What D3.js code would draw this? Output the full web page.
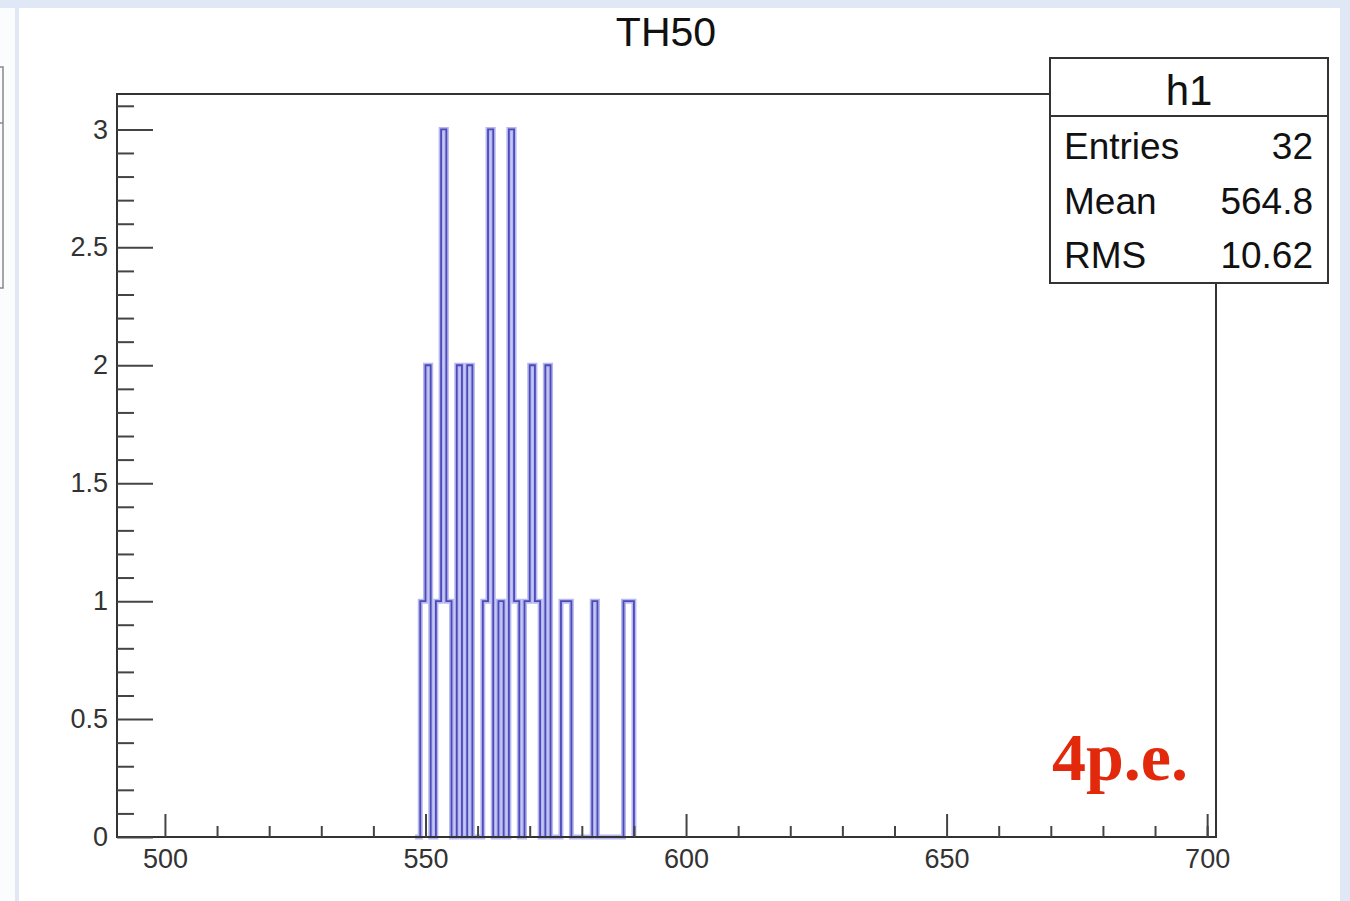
<!DOCTYPE html>
<html>
<head>
<meta charset="utf-8">
<script src="https://cdn.jsdelivr.net/npm/d3@7"></script>
<style>
  html, body { margin: 0; padding: 0; background: #dfe8f4; }
  svg { display: block; }
  text { font-family: "Liberation Sans", Arial, sans-serif; }
</style>
</head>
<body>
<div id="chart"></div>
<script>
// histogram bins: lower edge (width 1) and counts
const binLow = [549, 550, 551, 552, 553, 554, 555, 556, 557, 558, 559, 560, 561, 562, 563, 564, 565, 566, 567, 568, 569,
                570, 571, 572, 573, 574, 575, 576, 577, 578, 579, 580, 581, 582, 583, 584, 585, 586, 587, 588, 589];
const counts = [1, 2, 0, 1, 3, 1, 0, 2, 0, 2, 0, 0, 1, 3, 0, 1, 0, 3, 1, 0, 1,
                2, 1, 0, 2, 0, 0, 1, 1, 0, 0, 0, 0, 1, 0, 0, 0, 0, 0, 1, 1];

const xMajorTicks = [500, 550, 600, 650, 700];
const xMinorTicks = [510, 520, 530, 540, 560, 570, 580, 590, 610, 620, 630, 640, 660, 670, 680, 690, 700];
const yMajorTicks = [0, 0.5, 1, 1.5, 2, 2.5, 3];
const yMinorTicks = [0.1, 0.2, 0.3, 0.4, 0.6, 0.7, 0.8, 0.9, 1.1, 1.2, 1.3, 1.4, 1.6, 1.7, 1.8, 1.9,
                     2.1, 2.2, 2.3, 2.4, 2.6, 2.7, 2.8, 2.9, 3.1];

const statNames = ["Entries", "Mean", "RMS"];
const statValues = ["32", "564.8", "10.62"];
const histName = "h1";
const title = "TH50";
const note = "4p.e.";

const width = 1350;
const height = 901;

const svg = d3.select("#chart")
    .append("svg")
    .attr("width", width)
    .attr("height", height);

// slide background pieces
svg.append("rect").attr("x", 0).attr("y", 8).attr("width", 15).attr("height", height).attr("fill", "#fbfcfe");
svg.append("rect").attr("x", 19).attr("y", 8).attr("width", 1321).attr("height", height).attr("fill", "#ffffff");
svg.append("path")
    .attr("d", "M0,67 L3,67 L3,288 L0,288 M0,123 L3,123")
    .attr("fill", "none").attr("stroke", "#888").attr("stroke-width", 1.5);

const frame = { left: 117, right: 1216, top: 94, bottom: 837 };

const x = d3.scaleLinear().domain([490.8, 701.7]).range([frame.left, frame.right]);
const y = d3.scaleLinear().domain([0, 3.15]).range([frame.bottom, frame.top]);

// histogram outline
const pts = binLow.map((b, i) => [b, counts[i]]);
pts.unshift([binLow[0] - 1, 0]);
pts.push([binLow[binLow.length - 1] + 1, 0]);

const step = d3.line()
    .x(d => x(d[0]))
    .y(d => y(d[1]))
    .curve(d3.curveStepAfter);

svg.append("path")
    .attr("d", step(pts))
    .attr("fill", "none")
    .attr("stroke", "#b8b8f0")
    .attr("stroke-width", 5);

svg.append("path")
    .attr("d", step(pts))
    .attr("fill", "none")
    .attr("stroke", "#4a4ab8")
    .attr("stroke-width", 1.8);

// frame
svg.append("rect")
    .attr("x", frame.left).attr("y", frame.top)
    .attr("width", frame.right - frame.left).attr("height", frame.bottom - frame.top)
    .attr("fill", "none").attr("stroke", "#333").attr("stroke-width", 2);

// axes
const styleAxis = g => {
    g.select(".domain").remove();
    g.selectAll(".tick line").attr("stroke", "#444").attr("stroke-width", 2);
    g.selectAll("text").attr("fill", "#333").style("font-size", "27px")
        .style("font-family", "'Liberation Sans', Arial, sans-serif");
};

svg.append("g")
    .attr("transform", `translate(0,${frame.bottom})`)
    .call(d3.axisBottom(x).tickValues(xMajorTicks).tickSize(-23).tickPadding(12).tickFormat(d3.format("d")))
    .call(styleAxis);

svg.append("g")
    .attr("transform", `translate(0,${frame.bottom})`)
    .call(d3.axisBottom(x).tickValues(xMinorTicks).tickSize(-11).tickFormat(""))
    .call(styleAxis);

svg.append("g")
    .attr("transform", `translate(${frame.left},0)`)
    .call(d3.axisLeft(y).tickValues(yMajorTicks).tickSize(-36).tickPadding(9).tickFormat(d3.format("~g")))
    .call(styleAxis);

svg.append("g")
    .attr("transform", `translate(${frame.left},0)`)
    .call(d3.axisLeft(y).tickValues(yMinorTicks).tickSize(-17).tickFormat(""))
    .call(styleAxis);

// title
svg.append("text")
    .attr("x", 666).attr("y", 46)
    .attr("text-anchor", "middle")
    .attr("fill", "#111")
    .style("font-size", "41px")
    .text(title);

// stats box
const box = { left: 1050, right: 1328, top: 58, bottom: 283, divider: 116 };
svg.append("rect")
    .attr("x", box.left).attr("y", box.top)
    .attr("width", box.right - box.left).attr("height", box.bottom - box.top)
    .attr("fill", "#fff").attr("stroke", "#333").attr("stroke-width", 2);
svg.append("line")
    .attr("x1", box.left).attr("x2", box.right)
    .attr("y1", box.divider).attr("y2", box.divider)
    .attr("stroke", "#333").attr("stroke-width", 2);

svg.append("text")
    .attr("x", (box.left + box.right) / 2).attr("y", 105)
    .attr("text-anchor", "middle").attr("fill", "#111")
    .style("font-size", "42px")
    .text(histName);

const rowY = [159, 214, 268];
statNames.forEach((name, i) => {
    svg.append("text")
        .attr("x", 1064).attr("y", rowY[i])
        .attr("fill", "#111").style("font-size", "37px")
        .text(name);
    svg.append("text")
        .attr("x", 1313).attr("y", rowY[i])
        .attr("text-anchor", "end")
        .attr("fill", "#111").style("font-size", "37px")
        .text(statValues[i]);
});

// annotation
svg.append("text")
    .attr("x", 1052).attr("y", 780)
    .attr("fill", "#e2290c")
    .style("font-family", "'Liberation Serif', 'Times New Roman', serif")
    .style("font-weight", "bold")
    .style("font-size", "68px")
    .text(note);
</script>
</body>
</html>
